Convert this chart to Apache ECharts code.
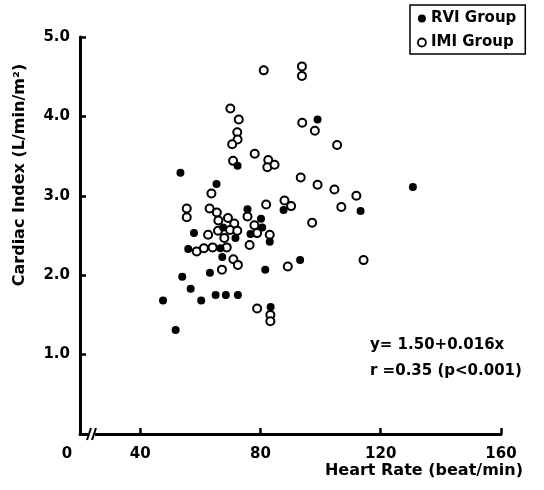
<!DOCTYPE html>
<html>
<head>
<meta charset="utf-8">
<script src="https://cdn.jsdelivr.net/npm/echarts@6/dist/echarts.min.js"></script>
<style>
  html, body { margin: 0; padding: 0; background: #fff; }
  #chart { width: 544px; height: 490px; }
</style>
</head>
<body>
<div id="chart"></div>
<script>
// Heart rate (beat/min) and cardiac index (L/min/m2) per patient
const rviHeartRate = [53.4, 65.4, 72.4, 99.0, 75.7, 87.7, 80.2, 80.6, 67.6, 57.9,
  71.7, 76.7, 83.1, 56.0, 66.7, 67.3, 63.2, 54.0, 56.8, 47.6,
  60.3, 65.1, 68.5, 72.5, 81.6, 93.2, 83.4, 51.8, 113.3, 130.7];
const rviCardiacIndex = [3.29, 3.15, 3.38, 3.96, 2.83, 2.82, 2.71, 2.60, 2.60, 2.53,
  2.47, 2.52, 2.42, 2.33, 2.34, 2.23, 2.03, 1.98, 1.83, 1.68,
  1.68, 1.75, 1.75, 1.75, 2.07, 2.19, 1.60, 1.31, 2.81, 3.11];

const imiHeartRate = [81.1, 93.8, 93.8, 70.0, 72.8, 72.3, 72.4, 70.6, 93.9, 98.1,
  105.5, 78.1, 70.9, 82.6, 82.3, 84.7, 93.4, 99.0, 104.6, 111.9,
  106.9, 97.2, 114.3, 63.7, 55.5, 55.5, 63.1, 65.5, 66.0, 69.2,
  71.3, 69.9, 72.3, 65.9, 62.6, 68.0, 75.7, 81.9, 78.0, 78.9,
  83.1, 76.4, 88.0, 90.2, 58.8, 61.2, 64.1, 68.8, 71.0, 72.5,
  67.2, 89.1, 78.9, 83.3, 83.3];
const imiCardiacIndex = [4.58, 4.63, 4.51, 4.10, 3.96, 3.80, 3.71, 3.65, 3.92, 3.82,
  3.64, 3.53, 3.44, 3.45, 3.36, 3.39, 3.23, 3.14, 3.08, 3.00,
  2.86, 2.66, 2.19, 3.03, 2.84, 2.73, 2.84, 2.79, 2.69, 2.72,
  2.65, 2.57, 2.56, 2.56, 2.51, 2.47, 2.74, 2.89, 2.63, 2.53,
  2.51, 2.38, 2.94, 2.87, 2.30, 2.34, 2.35, 2.35, 2.20, 2.13,
  2.07, 2.11, 1.58, 1.50, 1.42];

const xTicks = [40, 80, 120, 160];
const xOrigin = 20;          // start of the broken axis, labelled "0"
const yMin = 0, yMax = 5, yStep = 1;

const seriesNames = ['RVI Group', 'IMI Group'];
const xName = 'Heart Rate (beat/min)';
const yName = 'Cardiac Index (L/min/m²)';
const fitLines = ['y= 1.50+0.016x', 'r =0.35 (p<0.001)'];

const FONT = '"DejaVu Sans", "Liberation Sans", sans-serif';
const textBase = { color: '#000', fontFamily: FONT, fontWeight: 'bold', fontSize: 15 };

const zip = (xs, ys) => xs.map((x, i) => [x, ys[i]]);

const chart = echarts.init(document.getElementById('chart'), null, { renderer: 'canvas' });

const axisLine = { show: true, onZero: false, lineStyle: { color: '#000', width: 3 } };
const axisTick = { show: true, inside: true, length: 6, lineStyle: { color: '#000', width: 2.5 } };

chart.setOption({
  animation: false,
  backgroundColor: '#fff',
  grid: { left: 80, right: 43, top: 37, bottom: 56, containLabel: false },
  legend: {
    orient: 'vertical',
    left: 410,
    top: 5,
    padding: [6, 9, 4, 7],
    itemGap: 9,
    itemWidth: 8,
    itemHeight: 8,
    borderColor: '#000',
    borderWidth: 1.5,
    borderRadius: 0,
    textStyle: Object.assign({}, textBase),
    data: [
      { name: seriesNames[0], icon: 'circle', itemStyle: { color: '#000', borderWidth: 0 } },
      { name: seriesNames[1], icon: 'circle', itemStyle: { color: '#fff', borderColor: '#000', borderWidth: 1.8 } }
    ]
  },
  xAxis: {
    type: 'value',
    min: xOrigin,
    max: xTicks[xTicks.length - 1],
    axisLine: axisLine,
    axisTick: Object.assign({ customValues: xTicks }, axisTick),
    axisLabel: Object.assign({
      customValues: [xOrigin].concat(xTicks),
      margin: 13,
      formatter: v => (v === xOrigin ? '{o|0}' : String(v)),
      rich: { o: Object.assign({ padding: [0, 26, 0, 0] }, textBase) }
    }, textBase),
    splitLine: { show: false },
    name: xName,
    nameLocation: 'end',
    nameGap: 22,
    nameTextStyle: Object.assign({}, textBase, { fontSize: 16, align: 'right', verticalAlign: 'top', padding: [29, 0, 0, 0] })
  },
  yAxis: {
    type: 'value',
    min: yMin,
    max: yMax,
    interval: yStep,
    axisLine: axisLine,
    axisTick: axisTick,
    axisLabel: Object.assign({
      margin: 10,
      formatter: v => (v === 0 ? '' : v.toFixed(1))
    }, textBase),
    splitLine: { show: false }
  },
  series: [
    {
      name: seriesNames[0],
      type: 'scatter',
      symbol: 'circle',
      symbolSize: 8,
      z: 3,
      itemStyle: { color: '#000', opacity: 1 },
      data: zip(rviHeartRate, rviCardiacIndex)
    },
    {
      name: seriesNames[1],
      type: 'scatter',
      symbol: 'circle',
      symbolSize: 8,
      z: 2,
      itemStyle: { color: '#fff', borderColor: '#000', borderWidth: 2, opacity: 1 },
      data: zip(imiHeartRate, imiCardiacIndex)
    }
  ]
});

// Axis break, vertical axis title and regression annotation
const o = chart.convertToPixel({ gridIndex: 0 }, [xOrigin, yMin]);
const ox = o[0], oy = o[1];
chart.setOption({
  graphic: [
    { type: 'rect', z: 100, shape: { x: ox + 8, y: oy - 4, width: 7, height: 8 }, style: { fill: '#fff' } },
    { type: 'line', z: 101, shape: { x1: ox + 7, y1: oy + 6, x2: ox + 11, y2: oy - 6 }, style: { stroke: '#000', lineWidth: 2 } },
    { type: 'line', z: 101, shape: { x1: ox + 12, y1: oy + 6, x2: ox + 16, y2: oy - 6 }, style: { stroke: '#000', lineWidth: 2 } },
    {
      type: 'text', z: 100, x: 20, y: 175, rotation: Math.PI / 2,
      style: { text: yName, align: 'center', verticalAlign: 'middle', fill: '#000', font: 'bold 16px ' + FONT }
    },
    {
      type: 'text', z: 100, x: 370, y: 345,
      style: { text: fitLines[0], align: 'left', verticalAlign: 'middle', fill: '#000', font: 'bold 15px ' + FONT }
    },
    {
      type: 'text', z: 100, x: 370, y: 371,
      style: { text: fitLines[1], align: 'left', verticalAlign: 'middle', fill: '#000', font: 'bold 15px ' + FONT }
    }
  ]
});
</script>
</body>
</html>
